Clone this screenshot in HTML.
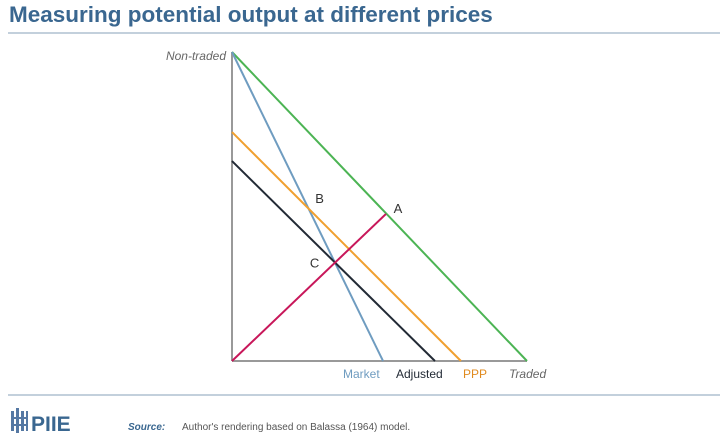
<!DOCTYPE html>
<html><head><meta charset="utf-8">
<style>
body{margin:0;width:720px;height:441px;background:#fff;overflow:hidden;font-family:"Liberation Sans",sans-serif;}
</style></head>
<body>
<svg width="720" height="441" xmlns="http://www.w3.org/2000/svg" id="chart">
<text x="9" y="22" font-size="22.5" font-weight="bold" fill="#3a6790">Measuring potential output at different prices</text>
<line x1="8" y1="33" x2="720" y2="33" stroke="#c3d0dc" stroke-width="2"/>
<g id="plot"></g>
<text x="226" y="60" font-size="12" font-style="italic" fill="#666" text-anchor="end">Non-traded</text>
<text x="343" y="378" font-size="12" fill="#6f9cc0">Market</text>
<text x="396" y="378" font-size="12" fill="#222a35">Adjusted</text>
<text x="463" y="378" font-size="12" fill="#e08a1e">PPP</text>
<text x="509" y="378" font-size="12" font-style="italic" fill="#666">Traded</text>
<line x1="8" y1="395" x2="720" y2="395" stroke="#c3d0dc" stroke-width="2"/>
<g fill="#5578a3">
<rect x="11" y="411" width="3" height="20"/><rect x="16" y="408" width="3" height="25"/><rect x="21" y="411" width="3" height="20"/>
<rect x="11" y="417" width="17" height="2"/><rect x="11" y="424" width="17" height="2"/><rect x="26" y="411" width="2" height="20"/>
<text x="31" y="431" font-size="21" font-weight="bold" fill="#3a6790">PIIE</text>
</g>
<text x="128" y="430" font-size="10" font-weight="bold" font-style="italic" fill="#3a6790">Source:</text>
<text x="182" y="430" font-size="10" fill="#555">Author's rendering based on Balassa (1964) model.</text>
</svg>
<script>
const lineNames=["green-frontier","market-line","ppp-line","adjusted-line"];
const lineColors=["#4cb454","#6f9cc0","#f0a030","#222a35"];
const yIntercepts=[100,100,74.1,64.7];
const xIntercepts=[100,51.2,77.6,68.8];
const rayEnd=[52.2,47.6];
const pointLabels=["A","B","C"];
const pointX=[54.8,28.2,26.4];
const pointY=[47.9,51.2,30.2];
const X0=232,X1=527,Y0=361,Y1=52;
const sx=v=>X0+(X1-X0)*v/100;
const sy=v=>Y0-(Y0-Y1)*v/100;
const g=document.getElementById('plot');
const NS="http://www.w3.org/2000/svg";
function ln(x1,y1,x2,y2,c,w){const l=document.createElementNS(NS,'line');l.setAttribute('x1',x1);l.setAttribute('y1',y1);l.setAttribute('x2',x2);l.setAttribute('y2',y2);l.setAttribute('stroke',c);l.setAttribute('stroke-width',w);g.appendChild(l);return l;}
let a=ln(sx(0),sy(0),sx(0),sy(100),'#999',2);


a=ln(sx(0),sy(0),sx(100),sy(0),'#999',2);


for(let i=0;i<lineNames.length;i++){
 const l=ln(sx(0),sy(yIntercepts[i]),sx(xIntercepts[i]),sy(0),lineColors[i],2);
 
 
}
const r=ln(sx(0),sy(0),sx(rayEnd[0]),sy(rayEnd[1]),'#c8175a',2);


for(let i=0;i<pointLabels.length;i++){
 const t=document.createElementNS(NS,'text');
 t.setAttribute('x',sx(pointX[i]));t.setAttribute('y',sy(pointY[i]));
 t.setAttribute('font-size','13');t.setAttribute('fill','#333');
 t.textContent=pointLabels[i];
 
 
 g.appendChild(t);
}
</script>
</body></html>
